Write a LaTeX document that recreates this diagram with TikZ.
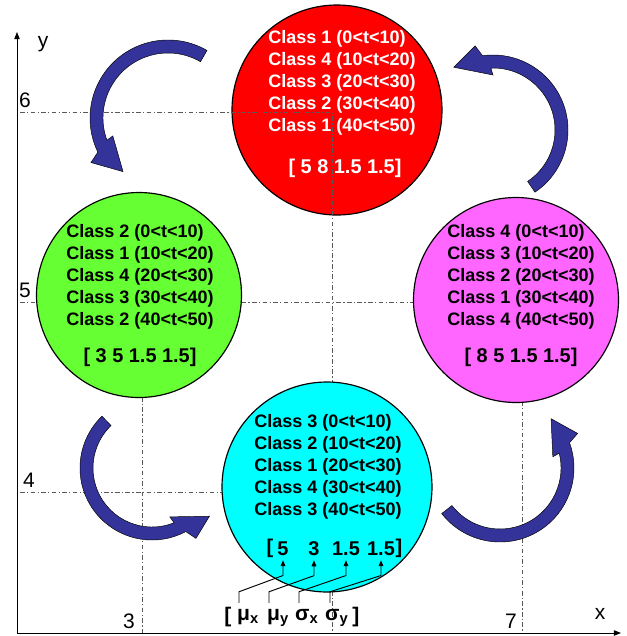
\documentclass[tikz,border=0pt]{standalone}
\usepackage{fontspec}
\setmainfont{Liberation Sans}
\usetikzlibrary{arrows.meta, calc}
\definecolor{redfill}{HTML}{FF0000}
\definecolor{greenfill}{HTML}{66FF33}
\definecolor{pinkfill}{HTML}{FF66FF}
\definecolor{cyanfill}{HTML}{00FFFF}
\definecolor{bentblue}{HTML}{333399}

\begin{document}
\begin{tikzpicture}[x=0.03cm, y=-0.03cm,
  blob/.style={circle, draw=black, line width=1pt, inner sep=0pt, outer sep=0pt},
  cls/.style={font=\fontsize{15.4}{18.8}\selectfont\bfseries, align=left, inner sep=0pt},
  vec/.style={font=\fontsize{17}{20}\selectfont\bfseries, inner sep=0pt},
  sym/.style={font=\fontsize{18}{20}\selectfont\bfseries, inner sep=0pt},
  axlab/.style={font=\fontsize{17.9}{20}\selectfont, inner sep=0pt},
  gridln/.style={black!65, line width=0.6pt, dash pattern=on 4pt off 2pt on 1pt off 2pt},
  bent/.style={fill=bentblue, draw=black, line width=0.4pt},
  ptr/.style={black, line width=0.8pt, -{Triangle[length=5pt,width=4pt]}},
  axis/.style={black, line width=0.8pt, -{Triangle[length=6pt,width=4.5pt]}}]

\useasboundingbox (0,0) rectangle (627,636);

% Red circle (the grid lines run over it)
\node[blob, fill=redfill, minimum size=6.3cm] (red) at (337,110) {};

% Grid lines
\draw[gridln] (20,112) -- (332,112) -- (332,633);
\draw[gridln] (20,302) -- (522,302) -- (522,633);
\draw[gridln] (20,492) -- (327,492);
\draw[gridln] (142,302) -- (142,633);

% Curved arrows: centre, inner/outer radius, tail angle, head angle, tip angle, tip radius
\foreach \cx/\cy/\rin/\rout/\ta/\tb/\tc/\rtip in {168/118/65/78/-60/-198/-230/70,
    493/130/62/75/56/-90/-122/74, 152/468/59/72/-134/-290/-320/75, 500/468/61/74/142/-12/-44/71} {
  \filldraw[bent] ($(\cx,\cy)+({\ta}:{\rout})$) arc[start angle=\ta, end angle=\tb-8, radius=\rout]
    -- ($(\cx,\cy)+({\tb-12}:{\rout+11})$) -- ($(\cx,\cy)+({\tc}:{\rtip})$)
    -- ($(\cx,\cy)+({\tb}:{\rin-7})$) -- ($(\cx,\cy)+({\tb-2}:{\rin})$)
    arc[start angle=\tb-2, end angle=\ta, radius=\rin] -- cycle;
}

% Other circles
\node[blob, fill=greenfill, minimum size=6.15cm] (green) at (139,295) {};
\node[blob, fill=pinkfill, minimum size=6.15cm] (pink) at (516,300) {};
\node[blob, fill=cyanfill, minimum size=6.3cm] (cyan) at (327,487) {};

% Class sequences
\node[cls, white] (redtxt) at (342,83) {Class 1 (0<t<10)\\Class 4 (10<t<20)\\Class 3 (20<t<30)\\Class 2 (30<t<40)\\Class 1 (40<t<50)};
\node[vec, white] (redvec) at (345,168) {[ 5 8 1.5 1.5]};
\node[cls] (greentxt) at (140,277) {Class 2 (0<t<10)\\Class 1 (10<t<20)\\Class 4 (20<t<30)\\Class 3 (30<t<40)\\Class 2 (40<t<50)};
\node[vec] (greenvec) at (140,357) {[ 3 5 1.5 1.5]};
\node[cls] (pinktxt) at (521,277) {Class 4 (0<t<10)\\Class 3 (10<t<20)\\Class 2 (20<t<30)\\Class 1 (30<t<40)\\Class 4 (40<t<50)};
\node[vec] (pinkvec) at (521,357) {[ 8 5 1.5 1.5]};
\node[cls] (cyantxt) at (328,467) {Class 3 (0<t<10)\\Class 2 (10<t<20)\\Class 1 (20<t<30)\\Class 4 (30<t<40)\\Class 3 (40<t<50)};

% Cyan vector, one node per entry
\node[vec] (cbl) at (270,548) {[};
\node[vec, inner ysep=3.5pt] (v1) at (283,549) {5};
\node[vec, inner ysep=3.5pt] (v2) at (314,549) {3};
\node[vec, inner ysep=3.5pt] (v3) at (346,549) {1.5};
\node[vec, inner ysep=3.5pt] (v4) at (381,549) {1.5};
\node[vec] (cbr) at (399,548) {]};

% Parameter names
\node[sym] (lbl) at (228,617) {[};
\node[sym, anchor=base west] (lmx) at (237,620) {μ\textsubscript{x}};
\node[sym, anchor=base west] (lmy) at (267,620) {μ\textsubscript{y}};
\node[sym, anchor=base west] (lsx) at (295,620) {σ\textsubscript{x}};
\node[sym, anchor=base west] (lsy) at (325,620) {σ\textsubscript{y}};
\node[sym] (lbr) at (356,617) {]};

\foreach \lab/\val/\dx in {lmx/v1/2, lmy/v2/2, lsx/v3/4, lsy/v4/5} {
  \draw[ptr] ([xshift=\dx*0.85pt, yshift=5pt]\lab.north west) -- ++(0,-11)
    -- ([yshift=-13pt]\val.south) -- (\val.south);
}

% Axes
\coordinate (o) at (17,633);
\coordinate (ytop) at (17,32);
\coordinate (xend) at (621,633);
\draw[axis] (o) -- (ytop);
\draw[axis] (o) -- (xend);

\node[axlab] (ylab) at (43,44) {y};
\node[axlab] (xlab) at (600,614) {x};
\node[axlab] (t6) at (25,100) {6};
\node[axlab] (t5) at (25,290) {5};
\node[axlab] (t4) at (29,480) {4};
\node[axlab] (t3) at (129,621) {3};
\node[axlab] (t7) at (511,621) {7};

\end{tikzpicture}
\end{document}
